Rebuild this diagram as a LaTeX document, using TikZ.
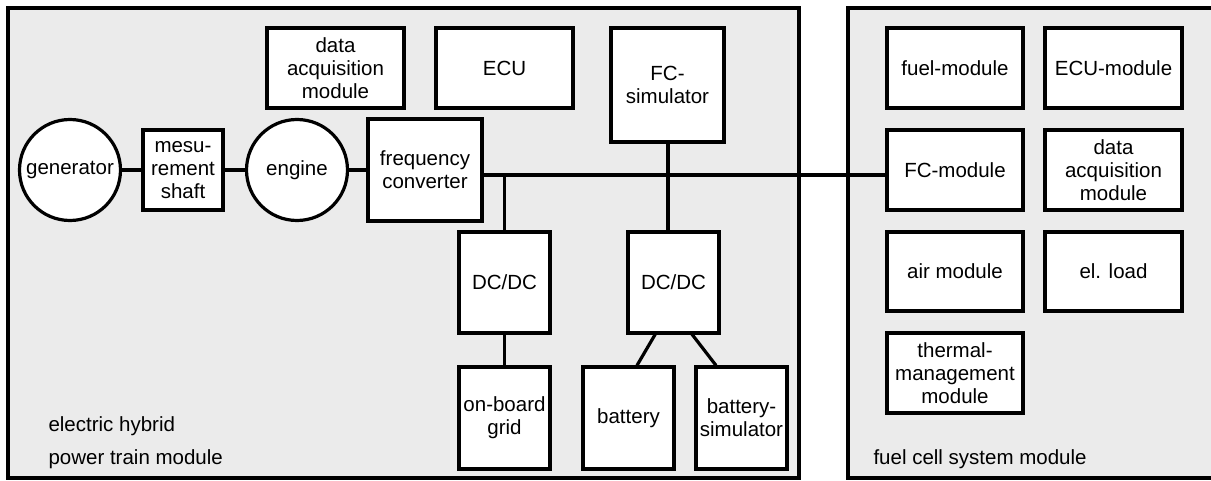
\documentclass[tikz,border=0pt]{standalone}
\usepackage{fontspec}
\setmainfont{Liberation Sans}
\begin{document}
\begin{tikzpicture}[x=1pt,y=-1pt,
  every node/.style={font=\fontsize{20.5}{23}\selectfont},
  module/.style={draw=black,line width=3.2pt,fill=modgrey},
  blk/.style={draw=black,line width=3.2pt,fill=white,align=center,inner sep=0pt},
  circ/.style={draw=black,line width=3.2pt,fill=white,circle,inner sep=0pt,minimum size=101pt},
  wire/.style={line width=3.2pt}]
\definecolor{modgrey}{HTML}{EBEBEB}
\useasboundingbox (0,0) rectangle (1211,481);
\fill[white] (0,0) rectangle (1211,481);
% modules
\draw[module] (8,8) rectangle (799,478);
\draw[module] (848,8) rectangle (1220,478);
% left module blocks
\node[circ] (gen) at (70,170) {generator};
\node[blk,minimum width=80pt,minimum height=80pt] (shaft) at (183,170) {mesu-\\rement\\shaft};
\node[circ] (eng) at (297,170) {engine};
\node[blk,minimum width=114pt,minimum height=102pt] (fcv) at (425,170) {frequency\\converter};
\node[blk,minimum width=137pt,minimum height=80pt] (daq1) at (335.5,68) {data\\acquisition\\module};
\node[blk,minimum width=137pt,minimum height=80pt] (ecu) at (504.5,68) {ECU};
\node[blk,minimum width=113pt,minimum height=114pt] (fcs) at (667.5,85) {FC-\\simulator};
\node[blk,minimum width=91pt,minimum height=101pt] (dc1) at (504.5,282.5) {DC/DC};
\node[blk,minimum width=91pt,minimum height=101pt] (dc2) at (673.5,282.5) {DC/DC};
\node[blk,minimum width=91pt,minimum height=102pt] (grid) at (504.5,418) {on-board\\grid};
\node[blk,minimum width=91pt,minimum height=102pt] (bat) at (628.5,418) {battery};
\node[blk,minimum width=91pt,minimum height=102pt] (bsim) at (741.5,418) {battery-\\simulator};
% right module blocks
\node[blk,minimum width=136pt,minimum height=80pt] (fuel) at (955,68) {fuel-module};
\node[blk,minimum width=137pt,minimum height=80pt] (ecum) at (1113.5,68) {ECU-module};
\node[blk,minimum width=136pt,minimum height=80pt] (fcm) at (955,170) {FC-module};
\node[blk,minimum width=137pt,minimum height=80pt] (daq2) at (1113.5,170) {data\\acquisition\\module};
\node[blk,minimum width=136pt,minimum height=79pt] (air) at (955,271.5) {air module};
\node[blk,minimum width=137pt,minimum height=79pt] (load) at (1113.5,271.5) {el. load};
\node[blk,minimum width=136pt,minimum height=80pt] (therm) at (955,373) {thermal-\\management\\module};
% labels
\node[anchor=west] (l1) at (45,426) {electric hybrid};
\node[anchor=west] (l2) at (45,459) {power train module};
\node[anchor=west] (l3) at (870,459) {fuel cell system module};
% connectors
\draw[wire] (gen) -- (shaft);
\draw[wire] (shaft) -- (eng);
\draw[wire] (eng) -- (fcv);
\coordinate (b1) at (504.5,175);
\coordinate (b2) at (668,175);
\draw[wire] (fcv.east |- b1) -- (fcm.west |- b1);
\draw[wire] (b1) -- (dc1.north);
\draw[wire] (fcs.south -| b2) -- (dc2.north -| b2);
\draw[wire] (dc1) -- (grid);
\draw[wire] (656,333) -- (bat.north -| 637,0);
\draw[wire] (691,333) -- (bsim.north -| 716,0);
\end{tikzpicture}
\end{document}
